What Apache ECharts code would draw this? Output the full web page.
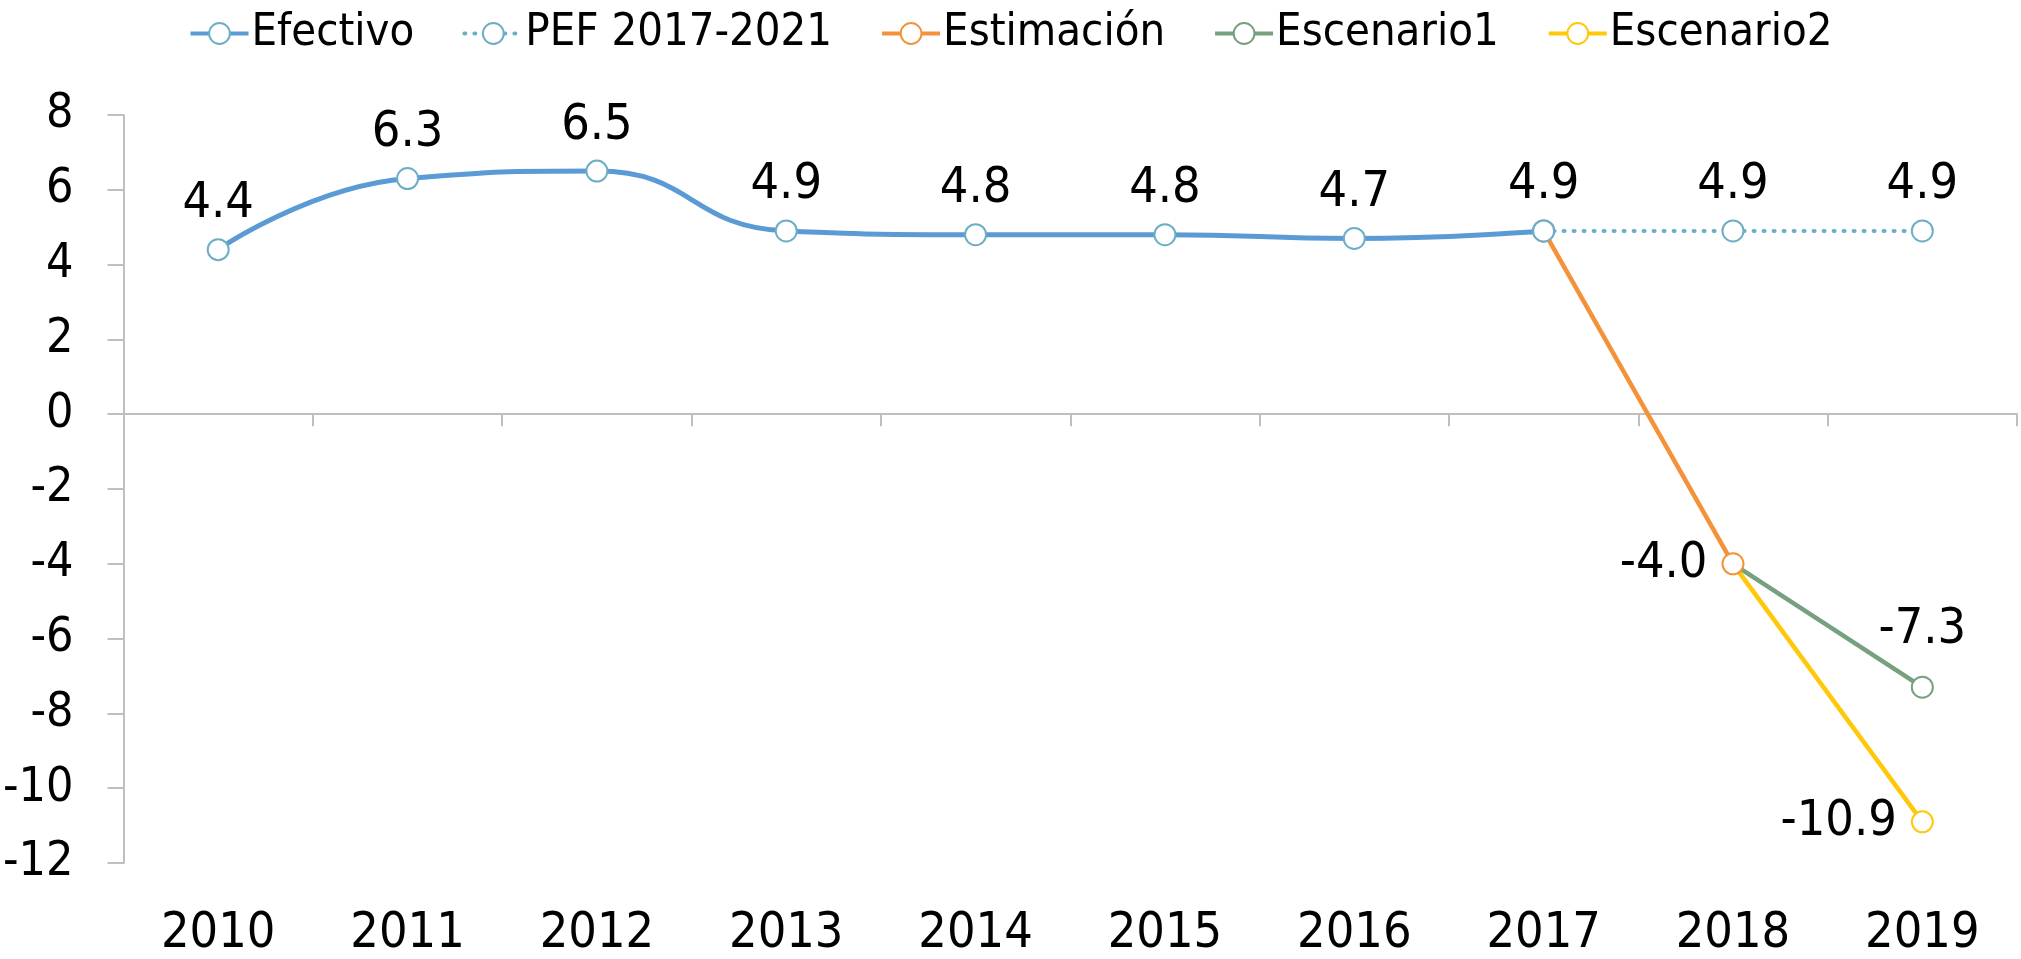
<!DOCTYPE html>
<html>
<head>
<meta charset="utf-8">
<script src="https://cdn.jsdelivr.net/npm/echarts@6/dist/echarts.min.js"></script>
<style>
	html, body { margin: 0; padding: 0; background: #fff; }
	#container { width: 2021px; height: 959px; }
</style>
</head>
<body>
<div id="container"></div>
<script>
var anios = ['2010', '2011', '2012', '2013', '2014', '2015', '2016', '2017', '2018', '2019'];
var efectivo = [4.4, 6.3, 6.5, 4.9, 4.8, 4.8, 4.7, 4.9, null, null];
var pef = [null, null, null, null, null, null, null, 4.9, 4.9, 4.9];
var estimacion = [null, null, null, null, null, null, null, 4.9, -4.0, null];
var escenario1 = [null, null, null, null, null, null, null, null, -4.0, -7.3];
var escenario2 = [null, null, null, null, null, null, null, null, -4.0, -10.9];
var ejeY = { min: -12, max: 8, interval: 2 };

var fuente = "'Liberation Sans Narrow', 'DejaVu Sans Condensed', 'Roboto Condensed', sans-serif";

// marca solo los puntos con etiqueta, el resto sin etiqueta
function conEtiqueta(data, indices, posicion, distancia) {
	return data.map((v, i) => {
		if (v === null) return null;
		var item = { value: v };
		if (indices.indexOf(i) >= 0) {
			item.label = { show: true, position: posicion, distance: distancia };
		}
		return item;
	});
}

function sinMarcaInicial(data) {
	var primero = data.findIndex(v => v !== null);
	return data.map((v, i) => {
		if (v === null) return null;
		return i === primero ? { value: v, symbol: 'none' } : { value: v };
	});
}

function initLinea(divName) {
	var dom = document.getElementById(divName);
	var myChart = echarts.init(dom);

	var etiqueta = {
		show: false,
		color: '#000',
		fontFamily: fuente,
		fontSize: 50,
		formatter: p => Number(p.value).toFixed(1)
	};

	var serieE1 = sinMarcaInicial(escenario1);
	serieE1[9].label = { show: true, position: 'top', distance: 21 };
	var serieE2 = sinMarcaInicial(escenario2);
	serieE2[9].label = { show: true, position: 'left', distance: 14 };

	var option = {
		animation: false,
		textStyle: { fontFamily: fuente },
		legend: {
			top: 6,
			left: 'center',
			itemWidth: 58,
			itemHeight: 26,
			itemGap: 48,
			lineStyle: { width: 4 },
			textStyle: { fontFamily: fuente, fontSize: 45, color: '#000', padding: [0, 0, 0, -2] },
			data: ['Efectivo', 'PEF 2017-2021', 'Estimación', 'Escenario1', 'Escenario2']
		},
		grid: {
			left: 121,
			right: 4,
			top: 115,
			bottom: 91,
			containLabel: false
		},
		xAxis: [
			{
				type: 'category',
				data: anios,
				boundaryGap: true,
				axisLine: { onZero: true, lineStyle: { color: '#BFBFBF', width: 2 } },
				axisTick: { show: true, length: 12, lineStyle: { color: '#BFBFBF', width: 2 } },
				axisLabel: { show: false },
				splitLine: { show: false }
			},
			{
				type: 'category',
				data: anios,
				position: 'bottom',
				boundaryGap: true,
				axisLine: { show: false, onZero: false },
				axisTick: { show: false },
				axisLabel: {
					margin: 46,
					color: '#000',
					fontFamily: fuente,
					fontSize: 50
				}
			}
		],
		yAxis: [
			{
				type: 'value',
				min: ejeY.min,
				max: ejeY.max,
				interval: ejeY.interval,
				axisLine: { show: true, lineStyle: { color: '#BFBFBF', width: 2 } },
				axisTick: { show: true, length: 16, lineStyle: { color: '#BFBFBF', width: 2 } },
				splitLine: { show: false },
				axisLabel: {
					margin: 50,
					color: '#000',
					fontFamily: fuente,
					fontSize: 48
				}
			}
		],
		series: [
			{
				name: 'Efectivo',
				type: 'line',
				z: 5,
				smooth: 0.5,
				symbol: 'circle',
				symbolSize: 21,
				lineStyle: { color: '#5B9BD5', width: 5 },
				itemStyle: { color: '#fff', borderColor: '#6DAEC6', borderWidth: 2 },
				label: etiqueta,
				data: conEtiqueta(efectivo, [0, 1, 2, 3, 4, 5, 6, 7], 'top', 9)
			},
			{
				name: 'PEF 2017-2021',
				type: 'line',
				z: 5,
				symbol: 'circle',
				symbolSize: 21,
				lineStyle: { color: '#6AAFC6', width: 4, type: [1, 9], cap: 'round' },
				itemStyle: { color: '#fff', borderColor: '#6DAEC6', borderWidth: 2 },
				label: etiqueta,
				data: conEtiqueta(pef, [8, 9], 'top', 9)
			},
			{
				name: 'Estimación',
				type: 'line',
				z: 4,
				symbol: 'circle',
				symbolSize: 21,
				lineStyle: { color: '#F4923A', width: 4.5 },
				itemStyle: { color: '#fff', borderColor: '#F4923A', borderWidth: 2 },
				label: etiqueta,
				data: conEtiqueta(estimacion, [8], 'left', 14)
			},
			{
				name: 'Escenario1',
				type: 'line',
				z: 3,
				symbol: 'circle',
				symbolSize: 21,
				lineStyle: { color: '#77A07F', width: 4.5 },
				itemStyle: { color: '#fff', borderColor: '#77A07F', borderWidth: 2 },
				label: etiqueta,
				data: serieE1
			},
			{
				name: 'Escenario2',
				type: 'line',
				z: 3,
				symbol: 'circle',
				symbolSize: 21,
				lineStyle: { color: '#FFC808', width: 4.5 },
				itemStyle: { color: '#fff', borderColor: '#FFC808', borderWidth: 2 },
				label: etiqueta,
				data: serieE2
			}
		]
	};

	if (option && typeof option === "object") {
		myChart.setOption(option, true);
	}
}

initLinea('container');
</script>
</body>
</html>
